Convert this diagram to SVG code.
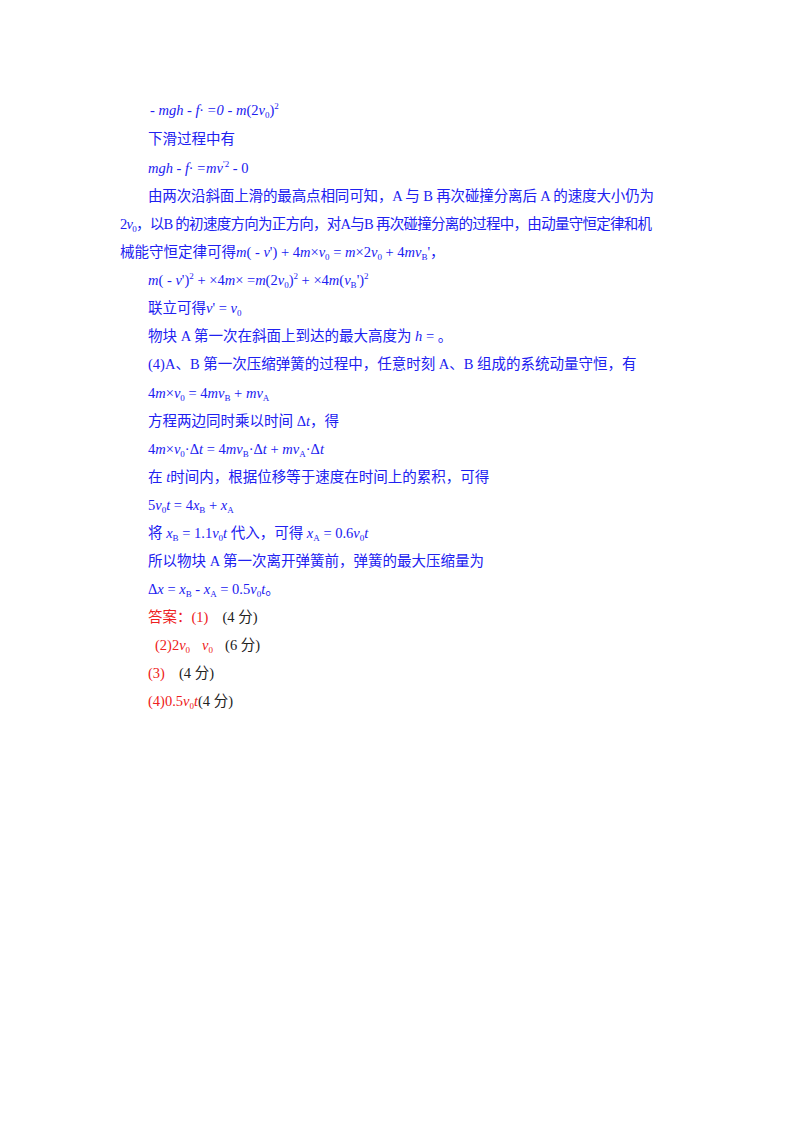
<svg xmlns="http://www.w3.org/2000/svg" width="800" height="1132" viewBox="0 0 800 1132">
<style>
text{font-family:"Liberation Serif","Noto Sans CJK SC",serif;font-size:14.5px;fill:#2020f0}
.c{font-family:"Noto Sans CJK SC",sans-serif}
.i{font-style:italic}
.s{font-size:9px}
.r{fill:#ee2020}
.k{fill:#222}
</style>
<rect width="800" height="1132" fill="#fff"/>
<g id="text">
<text x="150" y="115"><tspan class="i">- mgh - f· =0 - m</tspan>(2<tspan class="i">v</tspan><tspan class="s" dy="3">0</tspan><tspan dy="-3">)</tspan><tspan class="s" dy="-6">2</tspan></text>
<text x="148" y="144" class="c">下滑过程中有</text>
<text x="148" y="173"><tspan class="i">mgh - f· =mv</tspan><tspan class="s" dy="-6">'2</tspan><tspan dy="6"> - 0</tspan></text>
<text x="148" y="201" textLength="506" lengthAdjust="spacing"><tspan class="c">由两次沿斜面上滑的最高点相同可知，</tspan>A <tspan class="c">与</tspan> B <tspan class="c">再次碰撞分离后</tspan> A <tspan class="c">的速度大小仍为</tspan></text>
<text x="120" y="229" textLength="532" lengthAdjust="spacing">2<tspan class="i">v</tspan><tspan class="s" dy="3">0</tspan><tspan dy="-3" class="c">，以</tspan>B <tspan class="c">的初速度方向为正方向，对</tspan>A<tspan class="c">与</tspan>B <tspan class="c">再次碰撞分离的过程中，由动量守恒定律和机</tspan></text>
<text x="120" y="257"><tspan class="c">械能守恒定律可得</tspan><tspan class="i">m</tspan>( - <tspan class="i">v</tspan>') + 4<tspan class="i">m</tspan>×<tspan class="i">v</tspan><tspan class="s" dy="3">0</tspan><tspan dy="-3"> = </tspan><tspan class="i">m</tspan>×2<tspan class="i">v</tspan><tspan class="s" dy="3">0</tspan><tspan dy="-3"> + 4</tspan><tspan class="i">mv</tspan><tspan class="s" dy="3">B</tspan><tspan dy="-3">'，</tspan></text>
<text x="148" y="285"><tspan class="i">m</tspan>( - <tspan class="i">v</tspan>')<tspan class="s" dy="-6">2</tspan><tspan dy="6"> + ×4</tspan><tspan class="i">m</tspan>× =<tspan class="i">m</tspan>(2<tspan class="i">v</tspan><tspan class="s" dy="3">0</tspan><tspan dy="-3">)</tspan><tspan class="s" dy="-6">2</tspan><tspan dy="6"> + ×4</tspan><tspan class="i">m</tspan>(<tspan class="i">v</tspan><tspan class="s" dy="3">B</tspan><tspan dy="-3">')</tspan><tspan class="s" dy="-6">2</tspan></text>
<text x="148" y="313"><tspan class="c">联立可得</tspan><tspan class="i">v</tspan>' = <tspan class="i">v</tspan><tspan class="s" dy="3">0</tspan></text>
<text x="148" y="341"><tspan class="c">物块</tspan> A <tspan class="c">第一次在斜面上到达的最大高度为</tspan> <tspan class="i">h</tspan> = 。</text>
<text x="148" y="369">(4)A<tspan class="c">、</tspan>B <tspan class="c">第一次压缩弹簧的过程中，任意时刻</tspan> A<tspan class="c">、</tspan>B <tspan class="c">组成的系统动量守恒，有</tspan></text>
<text x="148" y="398">4<tspan class="i">m</tspan>×<tspan class="i">v</tspan><tspan class="s" dy="3">0</tspan><tspan dy="-3"> = 4</tspan><tspan class="i">mv</tspan><tspan class="s" dy="3">B</tspan><tspan dy="-3"> + </tspan><tspan class="i">mv</tspan><tspan class="s" dy="3">A</tspan></text>
<text x="148" y="426"><tspan class="c">方程两边同时乘以时间</tspan> Δ<tspan class="i">t</tspan><tspan class="c">，得</tspan></text>
<text x="148" y="454">4<tspan class="i">m</tspan>×<tspan class="i">v</tspan><tspan class="s" dy="3">0</tspan><tspan dy="-3">·Δ</tspan><tspan class="i">t</tspan> = 4<tspan class="i">mv</tspan><tspan class="s" dy="3">B</tspan><tspan dy="-3">·Δ</tspan><tspan class="i">t</tspan> + <tspan class="i">mv</tspan><tspan class="s" dy="3">A</tspan><tspan dy="-3">·Δ</tspan><tspan class="i">t</tspan></text>
<text x="148" y="482"><tspan class="c">在</tspan> <tspan class="i">t</tspan><tspan class="c">时间内，根据位移等于速度在时间上的累积，可得</tspan></text>
<text x="148" y="510">5<tspan class="i">v</tspan><tspan class="s" dy="3">0</tspan><tspan class="i" dy="-3">t</tspan> = 4<tspan class="i">x</tspan><tspan class="s" dy="3">B</tspan><tspan dy="-3"> + </tspan><tspan class="i">x</tspan><tspan class="s" dy="3">A</tspan></text>
<text x="148" y="538"><tspan class="c">将</tspan> <tspan class="i">x</tspan><tspan class="s" dy="3">B</tspan><tspan dy="-3"> = 1.1</tspan><tspan class="i">v</tspan><tspan class="s" dy="3">0</tspan><tspan class="i" dy="-3">t</tspan> <tspan class="c">代入，可得</tspan> <tspan class="i">x</tspan><tspan class="s" dy="3">A</tspan><tspan dy="-3"> = 0.6</tspan><tspan class="i">v</tspan><tspan class="s" dy="3">0</tspan><tspan class="i" dy="-3">t</tspan></text>
<text x="148" y="566"><tspan class="c">所以物块</tspan> A <tspan class="c">第一次离开弹簧前，弹簧的最大压缩量为</tspan></text>
<text x="148" y="594">Δ<tspan class="i">x</tspan> = <tspan class="i">x</tspan><tspan class="s" dy="3">B</tspan><tspan dy="-3"> - </tspan><tspan class="i">x</tspan><tspan class="s" dy="3">A</tspan><tspan dy="-3"> = 0.5</tspan><tspan class="i">v</tspan><tspan class="s" dy="3">0</tspan><tspan class="i" dy="-3">t</tspan>。</text>
<text x="148" y="622" class="r"><tspan class="c">答案：</tspan>(1)<tspan class="k" dx="14">(4 </tspan><tspan class="k c">分</tspan><tspan class="k">)</tspan></text>
<text x="155" y="650" class="r">(2)2<tspan class="i">v</tspan><tspan class="s" dy="3">0</tspan><tspan class="i" dy="-3" dx="12">v</tspan><tspan class="s" dy="3">0</tspan><tspan class="k" dy="-3" dx="12">(6 </tspan><tspan class="k c">分</tspan><tspan class="k">)</tspan></text>
<text x="148" y="678" class="r">(3)<tspan class="k" dx="14">(4 </tspan><tspan class="k c">分</tspan><tspan class="k">)</tspan></text>
<text x="148" y="706" class="r">(4)0.5<tspan class="i">v</tspan><tspan class="s" dy="3">0</tspan><tspan class="i" dy="-3">t</tspan><tspan class="k">(4 </tspan><tspan class="k c">分</tspan><tspan class="k">)</tspan></text>
</g>
</svg>
